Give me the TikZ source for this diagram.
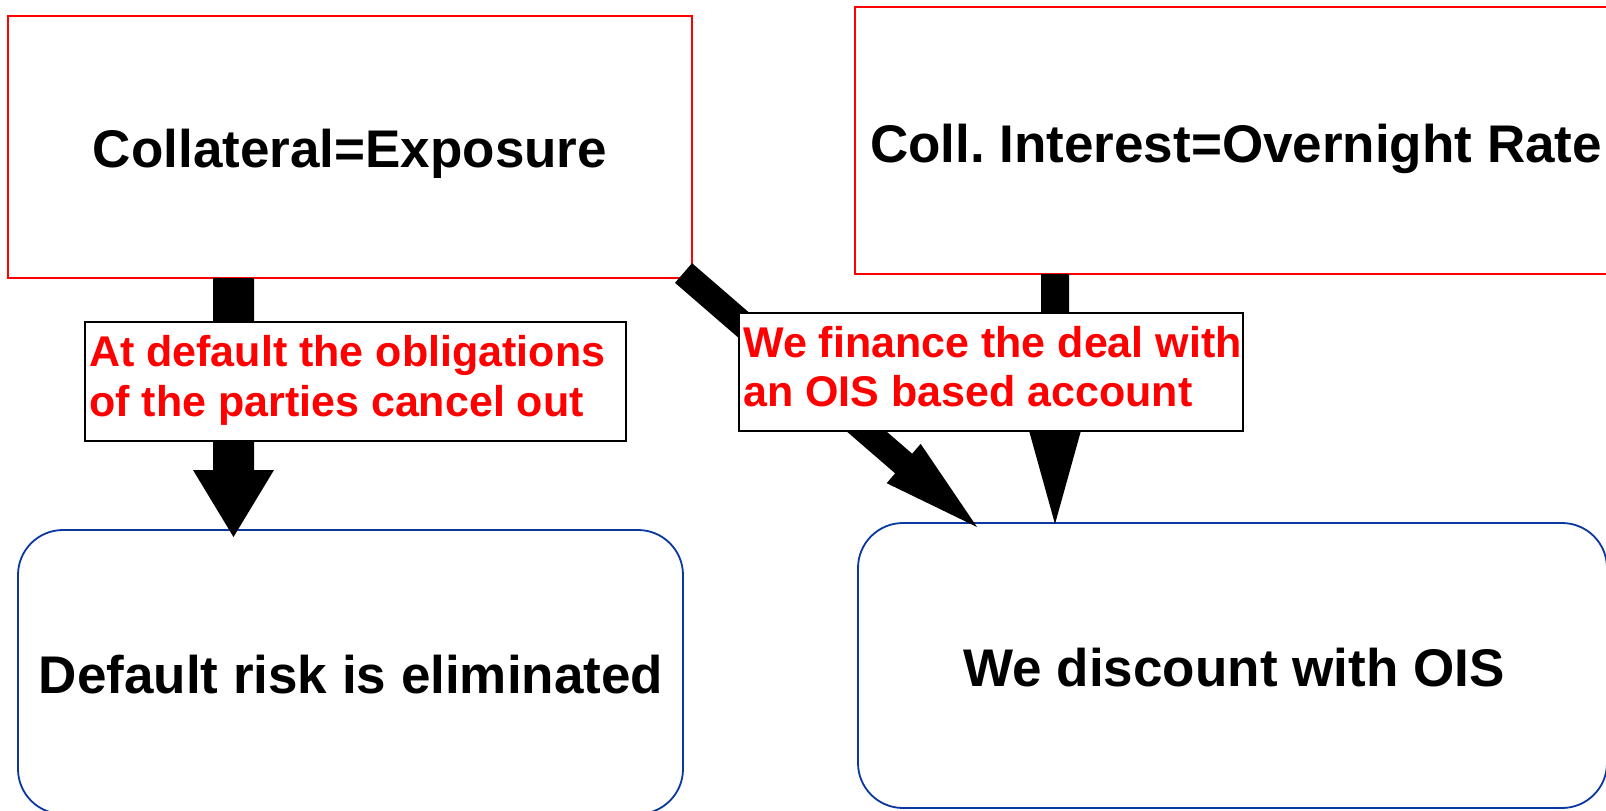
\documentclass[tikz,border=0pt]{standalone}
\usepackage{fontspec}
\setmainfont{Liberation Sans}
\usetikzlibrary{calc}
\frenchspacing
\definecolor{boxred}{RGB}{255,0,0}
\definecolor{boxblue}{RGB}{10,55,160}
\definecolor{labelred}{RGB}{255,0,0}

% fat block arrow: from, to, shaft half width, head half width, head length
\newcommand\fatarrow[5]{%
  \coordinate (hb) at ($(#2)!#5!(#1)$);
  \fill[black]
    ($(#1)!#3!90:(#2)$) -- ($(hb)!#3!90:(#2)$) -- ($(hb)!#4!90:(#2)$) --
    (#2) --
    ($(hb)!#4!-90:(#2)$) -- ($(hb)!#3!-90:(#2)$) -- ($(#1)!#3!-90:(#2)$) -- cycle;
}

\tikzset{
  factbox/.style={draw=boxred, line width=1.6pt, fill=white, inner sep=0pt, outer sep=0pt},
  resultbox/.style={draw=boxblue, line width=1.8pt, fill=white, rounded corners=45pt,
    inner sep=0pt, outer sep=0pt},
  notebox/.style={draw=black, line width=1.8pt, fill=white, inner sep=0pt, outer sep=0pt},
  notetext/.style={anchor=west, inner xsep=4pt, inner ysep=0pt, align=left, text=labelred,
    font=\fontsize{43}{49.5}\selectfont\bfseries},
  bigtext/.style={inner sep=0pt, font=\fontsize{53}{60}\selectfont\bfseries},
}

\begin{document}
\begin{tikzpicture}[x=1pt,y=-1pt]
  \useasboundingbox (0,0) rectangle (1606,811);
  \clip (0,0) rectangle (1606,811);
  \fill[white] (0,0) rectangle (1606,811);

  % premises
  \node[factbox, minimum width=684pt, minimum height=262pt] (box1) at (350,147) {};
  \node[factbox, minimum width=762pt, minimum height=267pt] (box2) at (1236,140.5) {};
  % conclusions
  \node[resultbox, minimum width=665pt, minimum height=284pt] (box3) at (350.5,672) {};
  \node[resultbox, minimum width=749pt, minimum height=285pt] (box4) at (1232.5,665.5) {};

  % arrow end points on the boxes
  \coordinate (a1s) at ([xshift=225.5pt]box1.south west);
  \coordinate (a1e) at ([xshift=215.5pt,yshift=-7pt]box3.north west);
  \coordinate (a2s) at ([xshift=200pt]box2.south west);
  \coordinate (a2e) at ([xshift=197pt,yshift=-1pt]box4.north west);
  \coordinate (a3s) at ([xshift=-8.5pt,yshift=5pt]box1.south east);
  \coordinate (a3e) at ([xshift=119pt,yshift=-4pt]box4.north west);

  \fatarrow{a1s}{a1e}{20.5pt}{40.5pt}{67pt}
  \fatarrow{a2s}{a2e}{14pt}{27pt}{97pt}
  \fatarrow{a3s}{a3e}{13pt}{26pt}{97pt}

  % notes on the arrows
  \node[notebox, minimum width=541pt, minimum height=119pt] (note1) at (355.5,381.5) {};
  \node[notetext] (n1) at (note1.west)
    {At default the obligations\strut\\of the parties cancel out\strut};
  \node[notebox, minimum width=504pt, minimum height=118pt] (note2) at (991,372) {};
  \node[notetext] (n2) at (note2.west)
    {We finance the deal with\strut\\an OIS based account\strut};

  % box texts
  \node[bigtext, anchor=base] (t1) at (350,167) {Collateral=Exposure};
  \node[bigtext, anchor=base] (t2) at (1236,162) {Coll. Interest=Overnight Rate};
  \node[bigtext, anchor=base] (t3) at (351,693) {Default risk is eliminated};
  \node[bigtext, anchor=base] (t4) at (1234,686) {We discount with OIS};
\end{tikzpicture}
\end{document}
